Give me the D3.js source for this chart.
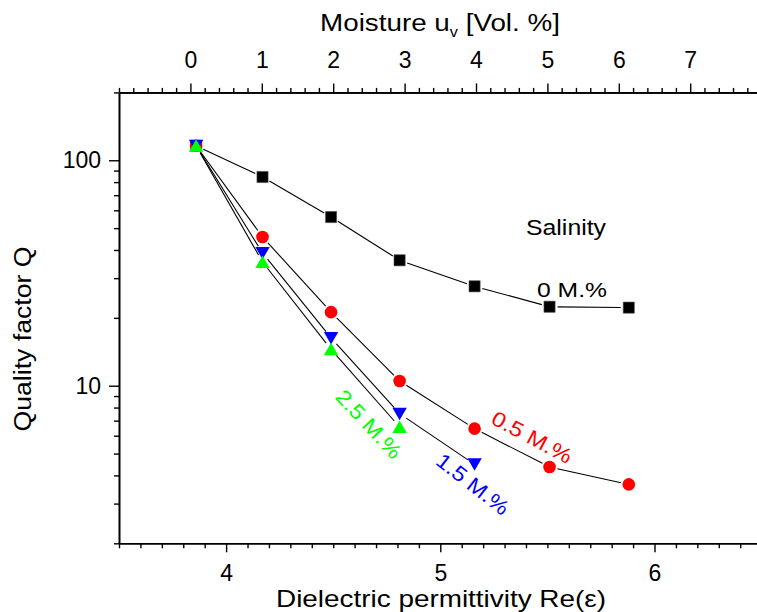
<!DOCTYPE html>
<html>
<head>
<meta charset="utf-8">
<script src="https://cdn.jsdelivr.net/npm/d3@7"></script>
<style>
  html, body { margin: 0; padding: 0; background: #fff; }
  svg { display: block; font-family: "Liberation Sans", Arial, sans-serif; }
</style>
</head>
<body>
<svg id="chart" width="757" height="612"></svg>
<script>
// Dielectric permittivity of each measurement (bottom axis)
const permittivity = [3.86, 4.17, 4.49, 4.81, 5.16, 5.51, 5.88];
// Quality factor Q for each salinity level
const q0  = [116, 84.3, 56.0, 36.0, 27.6, 22.4, 22.2];
const q05 = [116, 45.7, 21.2, 10.5, 6.45, 4.36, 3.65];
const q15 = [116, 38.8, 16.3, 7.52, 4.48];
const q25 = [116, 35.4, 14.5, 6.56];
const seriesNames = ["0 M.%", "0.5 M.%", "1.5 M.%", "2.5 M.%"];
const seriesColors = ["#000000", "#ff0000", "#0000ff", "#00ff00"];
const seriesShapes = ["square", "circle", "triangleDown", "triangleUp"];

// Axis ticks
const epsTicks = [4, 5, 6];
const moistureTicks = [0, 1, 2, 3, 4, 5, 6, 7];
const qTicks = [10, 100];

const svg = d3.select("#chart");
const W = 757, H = 612;
svg.append("rect").attr("width", W).attr("height", H).attr("fill", "#fff");

const plotLeft = 119, plotRight = 761.6, plotTop = 92.4, plotBottom = 543.3;

const x = d3.scaleLinear().domain([3.5, 6.5]).range([plotLeft, plotRight]);
const xTop = d3.scaleLinear().domain([-1, 8]).range([plotLeft, plotRight]);
const y = d3.scaleLog().domain([2, 200]).range([plotBottom, plotTop]);

const fontTick = 23;

function styleAxis(g) {
  g.select(".domain").attr("stroke", "#000").attr("stroke-width", 1.6);
  g.selectAll(".tick line").attr("stroke", "#000").attr("stroke-width", 1.4);
  g.selectAll("text").attr("fill", "#000").attr("font-size", fontTick)
    .attr("font-family", "Liberation Sans, Arial, sans-serif");
}

// Stretch a text horizontally (in its own frame) to a given length
function stretchTo(sel, len) {
  sel.attr("textLength", len).attr("lengthAdjust", "spacingAndGlyphs");
}

// Bottom axis: minor every 0.1, major at integers
const epsMinor = d3.range(35, 66).map(v => v / 10).filter(v => !epsTicks.includes(v));
svg.append("g").attr("transform", `translate(0,${plotBottom})`)
  .call(d3.axisBottom(x).tickValues(epsMinor).tickSize(5).tickFormat("").tickSizeOuter(0))
  .call(styleAxis);
svg.append("g").attr("transform", `translate(0,${plotBottom})`)
  .call(d3.axisBottom(x).tickValues(epsTicks).tickSize(9).tickPadding(12).tickFormat(d3.format("d")).tickSizeOuter(0))
  .call(styleAxis);

// Top axis: moisture, minor every 0.2
const mMinor = d3.range(-5, 41).map(v => v / 5).filter(v => !Number.isInteger(v) || v < 0 || v > 7);
svg.append("g").attr("transform", `translate(0,${plotTop})`)
  .call(d3.axisTop(xTop).tickValues(mMinor).tickSize(4.5).tickFormat("").tickSizeOuter(0))
  .call(styleAxis);
svg.append("g").attr("transform", `translate(0,${plotTop})`)
  .call(d3.axisTop(xTop).tickValues(moistureTicks).tickSize(9).tickPadding(15).tickFormat(d3.format("d")).tickSizeOuter(0))
  .call(styleAxis);

// Left axis: log scale, minor at 2..9, 20..90, 200
const qMinor = [2,3,4,5,6,7,8,9,20,30,40,50,60,70,80,90,200];
svg.append("g").attr("transform", `translate(${plotLeft},0)`)
  .call(d3.axisLeft(y).tickValues(qMinor).tickSize(5).tickFormat("").tickSizeOuter(0))
  .call(styleAxis);
svg.append("g").attr("transform", `translate(${plotLeft},0)`)
  .call(d3.axisLeft(y).tickValues(qTicks).tickSize(10).tickPadding(8).tickFormat(d3.format("d")).tickSizeOuter(0))
  .call(styleAxis);

// Axis titles
svg.append("text").attr("x", 441).attr("y", 607)
  .attr("text-anchor", "middle").attr("font-size", 24)
  .text("Dielectric permittivity Re(ε)")
  .call(stretchTo, 330);

const topTitle = svg.append("text").attr("x", 440).attr("y", 31)
  .attr("text-anchor", "middle").attr("font-size", 24);
topTitle.append("tspan").text("Moisture u");
topTitle.append("tspan").attr("dy", 6).attr("font-size", 14).text("v");
topTitle.append("tspan").attr("dy", -6).text(" [Vol. %]");
{
  const w0 = topTitle.node().getBBox().width;
  const sx = 240 / w0;
  topTitle.attr("transform", `translate(440,0) scale(${sx},1) translate(-440,0)`);
}

svg.append("text")
  .attr("transform", `translate(31,339) rotate(-90)`)
  .attr("text-anchor", "middle").attr("font-size", 23)
  .text("Quality factor Q")
  .call(stretchTo, 185);

// Series lines, drawn as segments stopping short of each marker
const seriesValues = [q0, q05, q15, q25];
const gap = 8;
const plot = svg.append("g");
seriesValues.forEach((vals) => {
  const pts = vals.map((v, i) => [x(permittivity[i]), y(v)]);
  for (let i = 0; i < pts.length - 1; i++) {
    const [x1, y1] = pts[i], [x2, y2] = pts[i + 1];
    const dx = x2 - x1, dy = y2 - y1, len = Math.hypot(dx, dy);
    const ux = dx / len, uy = dy / len;
    plot.append("line")
      .attr("x1", x1 + ux * gap).attr("y1", y1 + uy * gap)
      .attr("x2", x2 - ux * gap).attr("y2", y2 - uy * gap)
      .attr("stroke", "#000").attr("stroke-width", 1.1);
  }
});

// Markers
const symbolFor = {
  square: d3.symbol().type(d3.symbolSquare).size(125),
  circle: d3.symbol().type(d3.symbolCircle).size(125),
  triangleUp: d3.symbol().type(d3.symbolTriangle).size(90),
  triangleDown: d3.symbol().type(d3.symbolTriangle).size(90)
};
seriesValues.forEach((vals, s) => {
  plot.selectAll(null).data(vals).enter().append("path")
    .attr("d", symbolFor[seriesShapes[s]]())
    .attr("transform", (v, i) => {
      const base = `translate(${x(permittivity[i])},${y(v)})`;
      if (seriesShapes[s] === "triangleDown") return base + " rotate(180) translate(0,1.8)";
      if (seriesShapes[s] === "triangleUp") return base + " translate(0,1.8)";
      return base;
    })
    .attr("fill", seriesColors[s])
    .attr("stroke", s === 0 ? "#555" : "none")
    .attr("stroke-width", 0.6);
});

// Annotations
svg.append("text").attr("x", 566).attr("y", 235)
  .attr("text-anchor", "middle").attr("font-size", 22).text("Salinity")
  .call(stretchTo, 80);

const labelPos = [
  { cx: 572, cy: 289, angle: 0,  len: 70 },
  { cx: 532, cy: 437, angle: 28, len: 88 },
  { cx: 473, cy: 484, angle: 38, len: 86 },
  { cx: 369, cy: 424, angle: 47, len: 86 }
];
seriesNames.forEach((name, s) => {
  const p = labelPos[s];
  svg.append("text")
    .attr("transform", `translate(${p.cx},${p.cy}) rotate(${p.angle})`)
    .attr("text-anchor", "middle").attr("dominant-baseline", "central")
    .attr("font-size", 21).attr("fill", seriesColors[s])
    .text(name)
    .call(stretchTo, p.len);
});
</script>
</body>
</html>
